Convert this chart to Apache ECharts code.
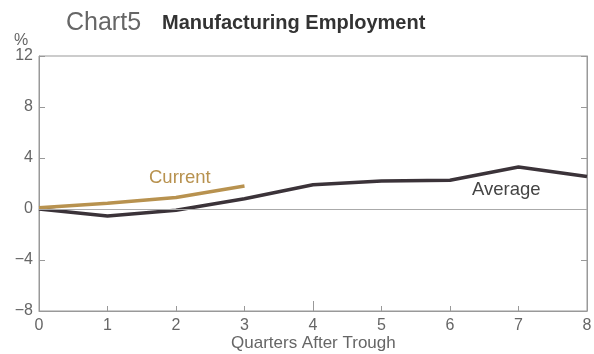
<!DOCTYPE html>
<html><head><meta charset="utf-8">
<script src="https://cdn.jsdelivr.net/npm/echarts@6/dist/echarts.min.js"></script>
<style>html,body{margin:0;padding:0;background:#fff}#c{width:594px;height:354px}</style>
</head><body><div id="c"></div>
<script>
const quarters = [0,1,2,3,4,5,6,7,8];
const averageVals = [0, -0.55, -0.1, 0.8, 1.9, 2.2, 2.25, 3.3, 2.55];
const currentVals = [0.1, 0.45, 0.9, 1.8];
const yTicks = [-8,-4,0,4,8,12];

const chart = echarts.init(document.getElementById('c'));
const font = 'Liberation Sans, Arial, sans-serif';
const axisCol = '#999';
const labCol = '#666';
chart.setOption({
  animation:false,
  textStyle:{fontFamily:font},
  grid:{left:39,right:7,top:56,bottom:43,show:true,borderColor:axisCol,borderWidth:1,
        containLabel:false,outerBoundsMode:'none'},
  graphic:[
    {type:'text',left:66,top:11,style:{text:'Chart5',font:'25px '+font,fill:'#666'}},
    {type:'text',left:162,top:13,style:{text:'Manufacturing Employment',font:'bold 20px '+font,fill:'#333'}},
    {type:'text',left:14,top:33,style:{text:'%',font:'16px '+font,fill:labCol}},
    {type:'text',left:149,top:168,style:{text:'Current',font:'18.5px '+font,fill:'#b8924f'}},
    {type:'text',left:472,top:180,style:{text:'Average',font:'18.5px '+font,fill:'#444'}},
    {type:'text',left:231,top:335,style:{text:'Quarters After Trough',font:'17px '+font,fill:labCol}}
  ],
  xAxis:[{type:'value',min:0,max:8,interval:1,
    axisLine:{onZero:false,lineStyle:{color:axisCol}},
    axisTick:{inside:true,length:5,lineStyle:{color:axisCol}},
    axisLabel:{fontSize:16,color:labCol,margin:7,fontFamily:font},
    splitLine:{show:false}},
    {type:'value',min:0,max:8,interval:4,position:'bottom',
    axisLine:{onZero:false,show:false},
    axisTick:{inside:true,length:10,lineStyle:{color:axisCol}},
    axisLabel:{show:false},splitLine:{show:false}}],
  yAxis:[{type:'value',min:-8,max:12,interval:4,
    axisLine:{show:true,onZero:false,lineStyle:{color:axisCol}},
    axisTick:{inside:true,length:6,lineStyle:{color:axisCol}},
    axisLabel:{fontSize:16,color:labCol,margin:6,fontFamily:font,
      formatter:v=>v<0?'\u2212'+Math.abs(v):String(v)},
    splitLine:{show:false}},
    {type:'value',min:-8,max:12,interval:4,position:'right',
    axisLine:{show:true,onZero:false,lineStyle:{color:axisCol}},
    axisTick:{inside:true,length:6,lineStyle:{color:axisCol}},
    axisLabel:{show:false},splitLine:{show:false}}],
  series:[
    {type:'line',name:'Average',data:quarters.map((q,i)=>[q,averageVals[i]]),
     symbol:'none',lineStyle:{color:'#3b3339',width:3.5},z:3,
     markLine:{silent:true,symbol:'none',label:{show:false},
       lineStyle:{color:'#aaa',width:1,type:'solid'},data:[{yAxis:0}]}},
    {type:'line',name:'Current',data:currentVals.map((v,i)=>[quarters[i],v]),
     symbol:'none',lineStyle:{color:'#b8924f',width:3.5},z:4}
  ]
});
</script></body></html>
